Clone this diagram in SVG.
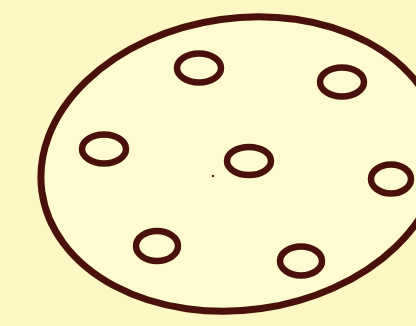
<svg xmlns="http://www.w3.org/2000/svg" width="416" height="326" viewBox="0 0 416 326">
<style>
.o{fill:#fefbd0;stroke:#4a110c;stroke-width:7}
.h{fill:#fefbd2;stroke:#4a110c;stroke-width:6.5}
</style>
<rect width="416" height="326" fill="#fdf8c3"/>
<g id="plate">
<ellipse class="o" cx="241" cy="164" rx="201" ry="146" transform="rotate(-8 241 164)"/>
</g>
<g id="holes">
<ellipse id="h1" class="h" cx="199" cy="68" rx="22" ry="14.5"/>
<ellipse id="h2" class="h" cx="342" cy="82" rx="22" ry="14.5"/>
<ellipse id="h3" class="h" cx="104" cy="149" rx="22" ry="14.5"/>
<ellipse id="h4" class="h" cx="249" cy="161" rx="22" ry="14"/>
<ellipse id="h5" class="h" cx="391" cy="179" rx="20" ry="14.5"/>
<ellipse id="h6" class="h" cx="157" cy="246" rx="21" ry="15"/>
<ellipse id="h7" class="h" cx="301" cy="261" rx="21" ry="14.5"/>
</g>
<circle cx="213" cy="176" r="1.2" fill="#4a110c"/>
</svg>
